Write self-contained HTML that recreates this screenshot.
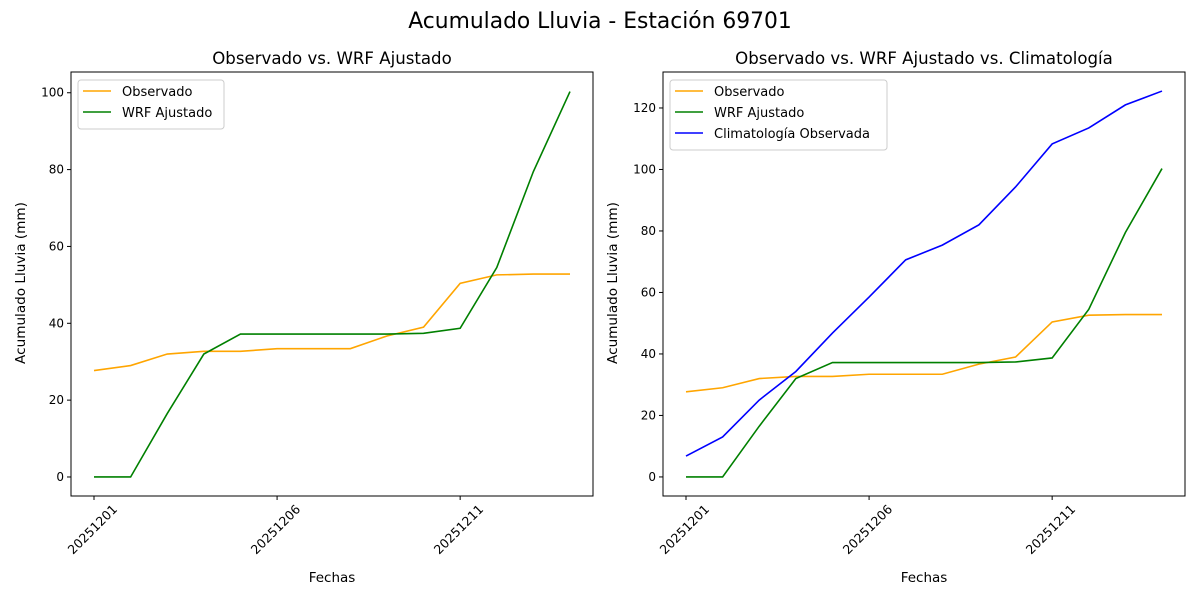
<!DOCTYPE html>
<html><head><meta charset="utf-8"><style>
body{margin:0;background:#fff;font-family:"Liberation Sans","DejaVu Sans",sans-serif}
svg text{font-family:"DejaVu Sans","Liberation Sans",sans-serif}
</style></head><body>
<svg id="c" width="1200" height="600" xmlns="http://www.w3.org/2000/svg">
<text x="600" y="28" font-size="21.8" text-anchor="middle">Acumulado Lluvia - Estación 69701</text>
</svg>
<script>
const dates=['20251201','20251202','20251203','20251204','20251205','20251206','20251207','20251208','20251209','20251210','20251211','20251212','20251213','20251214'];
const observado=[27.7,29,32,32.7,32.7,33.4,33.4,33.4,36.7,39,50.4,52.6,52.8,52.8];
const wrf=[0,0,16.5,32,37.2,37.2,37.2,37.2,37.2,37.4,38.7,54.5,79.5,100.3];
const clima=[6.8,13,25,34.3,46.8,58.5,70.6,75.4,82,94.3,108.3,113.5,121,125.5];
const leftTicks=[0,20,40,60,80,100];
const rightTicks=[0,20,40,60,80,100,120];
const xTickIdx=[0,5,10];
const NS='http://www.w3.org/2000/svg';
const svg=document.getElementById('c');
function el(t,a,txt){const e=document.createElementNS(NS,t);for(const k in a)e.setAttribute(k,a[k]);if(txt!==undefined)e.textContent=txt;svg.appendChild(e);return e;}
function panel(p){
  const {x0,x1,y0,y1,ymin,ymax,ticks,series,title,name,legendW}=p;
  const g=el('rect',{x:x0,y:y0,width:x1-x0,height:y1-y0,fill:'none',stroke:'#000','stroke-width':1});
  
  
  const n=dates.length;
  const xs=i=>x0+23+i*(x1-x0-46)/(n-1);
  const ys=v=>y1-(v-ymin)/(ymax-ymin)*(y1-y0);
  ticks.forEach(t=>{const y=ys(t);
    el('line',{x1:x0-4,x2:x0,y1:y,y2:y,stroke:'#000'});
    const tx=el('text',{x:x0-7,y:y+4,'font-size':12,'text-anchor':'end'},t);
    
    
  });
  xTickIdx.forEach(i=>{const x=xs(i);
    el('line',{x1:x,x2:x,y1:y1,y2:y1+4,stroke:'#000'});
    const ax=x+24,ay=y1+14;
    const tx=el('text',{x:ax,y:ay,'font-size':12.5,'text-anchor':'end',transform:`rotate(-45 ${ax} ${ay})`},dates[i]);
    
    
  });
  series.forEach(s=>{
    const pl=el('polyline',{points:s.data.map((v,i)=>xs(i)+','+ys(v)).join(' '),fill:'none',stroke:s.color,'stroke-width':1.6});
    
    
  });
  const t=el('text',{x:(x0+x1)/2,y:y0-8,'font-size':16.6,'text-anchor':'middle'},title);
  
  
  const xl=el('text',{x:(x0+x1)/2,y:582,'font-size':13.5,'text-anchor':'middle'},'Fechas');
  
  
  const yx=x0-46,yy=(y0+y1)/2-1;
  const yl=el('text',{x:yx,y:yy,'font-size':13.6,'text-anchor':'middle',transform:`rotate(-90 ${yx} ${yy})`},'Acumulado Lluvia (mm)');
  
  
  const lb=el('rect',{x:x0+7,y:y0+8,width:legendW,height:series.length*21+7,fill:'#fff',stroke:'#ccc',rx:3});
  
  
  series.forEach((s,i)=>{const y=y0+19+i*21;
    el('line',{x1:x0+12,x2:x0+40,y1:y,y2:y,stroke:s.color,'stroke-width':1.6});
    const lt=el('text',{x:x0+51,y:y+5,'font-size':13},s.label);
    
    
  });
}
panel({x0:71,x1:593,y0:72,y1:496,ymin:-4.95,ymax:105.4,ticks:leftTicks,title:'Observado vs. WRF Ajustado',name:'left-panel',legendW:146,
  series:[{data:observado,color:'orange',label:'Observado',name:'observado'},{data:wrf,color:'green',label:'WRF Ajustado',name:'wrf'}]});
panel({x0:663,x1:1185,y0:72,y1:496,ymin:-6.2,ymax:131.7,ticks:rightTicks,title:'Observado vs. WRF Ajustado vs. Climatología',name:'right-panel',legendW:217,
  series:[{data:observado,color:'orange',label:'Observado',name:'observado'},{data:wrf,color:'green',label:'WRF Ajustado',name:'wrf'},{data:clima,color:'blue',label:'Climatología Observada',name:'climatologia'}]});
</script>
</body></html>
